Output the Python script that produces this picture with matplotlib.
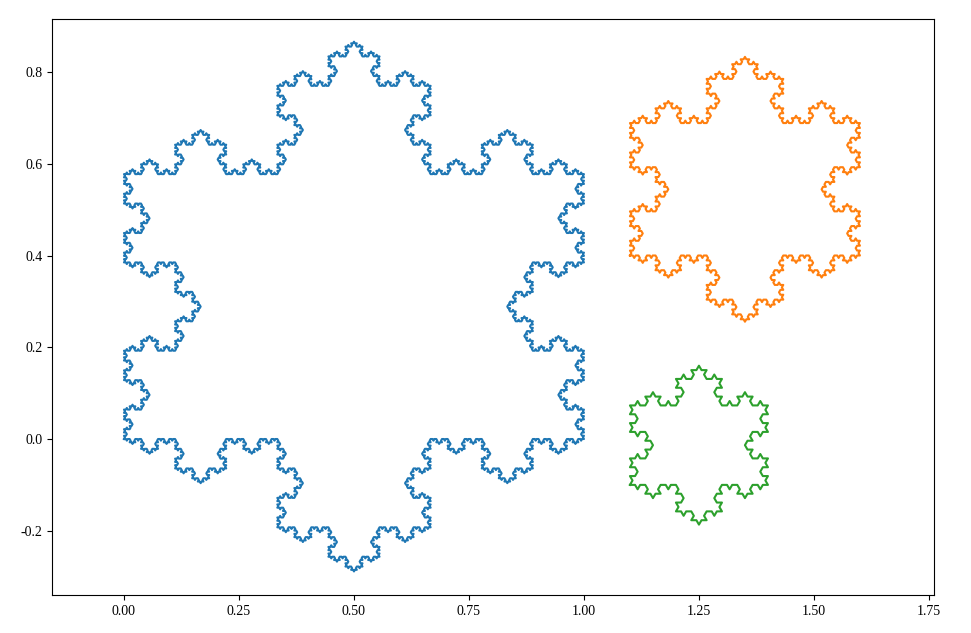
import numpy as np
import matplotlib
matplotlib.use("Agg")
import matplotlib.pyplot as plt

plt.rcParams['font.family'] = ['Liberation Serif', 'DejaVu Serif']
plt.rcParams['axes.unicode_minus'] = False

# Base triangles (clockwise vertices) and recursion orders of each snowflake
tri_blue = [(0.0, 0.0), (1.0, 0.0), (0.5, 0.8660254)]
tri_orange = [(1.1, 0.40), (1.6, 0.40), (1.35, 0.8330127)]
tri_green = [(1.1, -0.10), (1.4, -0.10), (1.25, 0.1598076)]
orders = [5, 4, 3]
colors = ['#1f77b4', '#ff7f0e', '#2ca02c']


def koch(points, order):
    p = np.array([complex(x, y) for x, y in points])
    zr = 0.5 - 0.5j * np.sqrt(3) / 3
    for _ in range(order):
        p2 = np.roll(p, -1)
        dp = p2 - p
        new = np.empty(len(p) * 4, dtype=complex)
        new[::4] = p
        new[1::4] = p + dp / 3
        new[2::4] = p + dp * zr
        new[3::4] = p + dp * 2 / 3
        p = new
    p = np.append(p, p[0])
    return p.real, p.imag


fig = plt.figure(figsize=(9.71, 6.33), dpi=100)
ax = fig.add_axes([52 / 971, 1 - 595 / 633, (934 - 52) / 971, (595 - 19) / 633])

for tri, order, c in zip([tri_blue, tri_orange, tri_green], orders, colors):
    x, y = koch(tri, order)
    ax.plot(x, y, color=c, linewidth=1.5)

ax.set_xlim(-0.1565, 1.761)
ax.set_ylim(-0.340, 0.9155)
ax.set_xticks([0.0, 0.25, 0.5, 0.75, 1.0, 1.25, 1.5, 1.75])
ax.set_xticklabels(['0.00', '0.25', '0.50', '0.75', '1.00', '1.25', '1.50', '1.75'])
ax.set_yticks([-0.2, 0.0, 0.2, 0.4, 0.6, 0.8])
ax.set_yticklabels(['-0.2', '0.0', '0.2', '0.4', '0.6', '0.8'])
ax.tick_params(labelsize=10)

fig.savefig('out.png', dpi=100)
